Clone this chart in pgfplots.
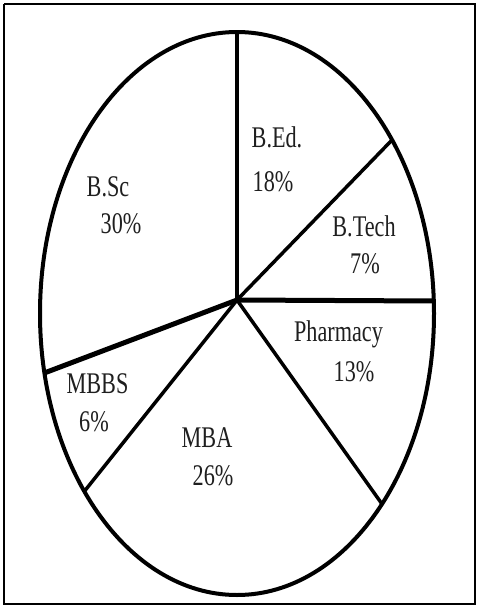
\documentclass[border=0pt]{standalone}
\usepackage{pgfplots}
\pgfplotsset{compat=1.18}
\usepackage{fontspec}
\setmainfont{Liberation Serif}
\newfontfamily\lab{Liberation Serif}[FakeStretch=0.74]
\newcommand\lbl[1]{{\lab\fontsize{30}{36}\selectfont #1}}
\begin{document}
\begin{tikzpicture}
\begin{axis}[
  width=477pt, height=608pt, scale only axis,
  xmin=0, xmax=477, ymin=0, ymax=608, y dir=reverse,
  hide axis, clip=false,
]
% full extent (invisible)
\addplot[draw=none, forget plot] coordinates {(0,0) (477,608)};
% outer frame
\addplot[line width=2pt, black, line join=miter, forget plot] coordinates {(4,4) (475,4) (475,604) (4,604) (4,4)};
% pie outline
\draw[line width=4pt] (axis cs:237,313.5) ellipse [x radius=197, y radius=281.5];
% spokes from hub (237,300)
\addplot[line width=3.5pt, black] coordinates {(237,300) (237,32)};
\addplot[line width=3.5pt, black] coordinates {(237,300) (392,140)};
\addplot[line width=5pt, black] coordinates {(237,300) (434,301)};
\addplot[line width=3.5pt, black] coordinates {(237,300) (382,504)};
\addplot[line width=3.5pt, black] coordinates {(237,300) (84.3,491.4)};
\addplot[line width=5pt, black] coordinates {(237,300) (44.3,373)};
% labels
\tikzset{every node/.append style={inner sep=0pt, anchor=base, text=black!88}}
\node at (axis cs:277,147) {\lbl{B.Ed.}};
\node at (axis cs:273,191.5) {\lbl{18\%}};
\node at (axis cs:364,236.5) {\lbl{B.Tech}};
\node at (axis cs:365,273) {\lbl{7\%}};
\node at (axis cs:338.5,341) {\lbl{Pharmacy}};
\node at (axis cs:354,381.5) {\lbl{13\%}};
\node at (axis cs:207,447) {\lbl{MBA}};
\node at (axis cs:213,485) {\lbl{26\%}};
\node at (axis cs:108,196.5) {\lbl{B.Sc}};
\node at (axis cs:121,233) {\lbl{30\%}};
\node at (axis cs:97.5,393) {\lbl{MBBS}};
\node at (axis cs:94,431.5) {\lbl{6\%}};
\end{axis}
\end{tikzpicture}
\end{document}
